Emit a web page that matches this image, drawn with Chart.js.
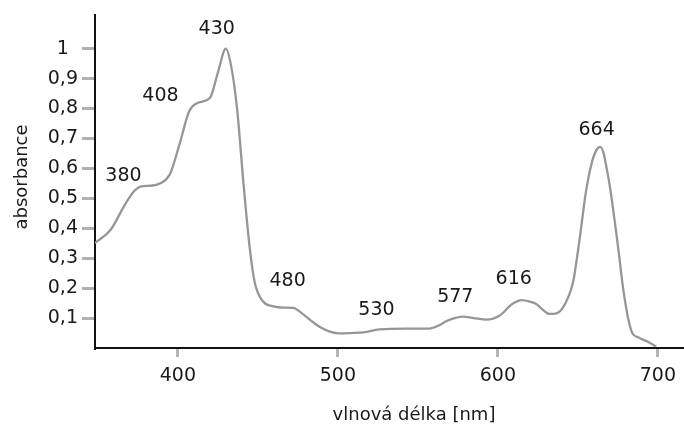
<!DOCTYPE html>
<html>
<head>
<meta charset="utf-8">
<script src="https://cdn.jsdelivr.net/npm/chart.js@4.4.1/dist/chart.umd.min.js"></script>
<style>
  html, body { margin: 0; padding: 0; background: #fff; }
  #wrap { width: 684px; height: 428px; }
</style>
</head>
<body>
<div id="wrap"><canvas id="chart" width="684" height="428"></canvas></div>
<script>
// absorption spectrum
const wavelengths = [348, 358, 367, 373, 377, 383, 389, 395, 401, 407, 413, 420, 425, 430, 433, 437, 441, 445, 448, 453, 459, 466, 472, 478, 484, 489, 495, 501, 508, 516, 526, 543, 557, 563, 568, 573, 578, 585, 593, 601, 609, 615, 620, 624, 628, 632, 636, 640, 644, 647, 651, 655, 659, 662, 664, 666, 668, 670, 672, 674, 676, 678, 680, 682, 684, 688, 694, 699];
const absorbance = [0.35, 0.395, 0.48, 0.526, 0.54, 0.542, 0.55, 0.58, 0.68, 0.79, 0.82, 0.835, 0.92, 1.0, 0.95, 0.8, 0.55, 0.33, 0.22, 0.157, 0.14, 0.135, 0.134, 0.114, 0.088, 0.069, 0.055, 0.049, 0.05, 0.052, 0.062, 0.065, 0.065, 0.075, 0.09, 0.1, 0.105, 0.1, 0.095, 0.108, 0.147, 0.16, 0.155, 0.147, 0.128, 0.114, 0.115, 0.13, 0.17, 0.22, 0.36, 0.52, 0.625, 0.665, 0.672, 0.652, 0.6, 0.54, 0.465, 0.385, 0.3, 0.21, 0.14, 0.085, 0.05, 0.035, 0.02, 0.005];

const xTicks = [400, 500, 600, 700];
const yTicks = [0.1, 0.2, 0.3, 0.4, 0.5, 0.6, 0.7, 0.8, 0.9, 1.0];
const yTickLabels = ['0,1', '0,2', '0,3', '0,4', '0,5', '0,6', '0,7', '0,8', '0,9', '1'];

// peak annotations: text and where it sits (nm, absorbance)
const peakLabels = ['380', '408', '430', '480', '530', '577', '616', '664'];
const peakLabelX = [366, 389.1, 424.3, 468.6, 524.1, 573.4, 609.9, 661.7];
const peakLabelY = [0.574, 0.842, 1.065, 0.222, 0.126, 0.17, 0.229, 0.729];

const xTitle = 'vlnová délka [nm]';
const yTitle = 'absorbance';

const FONT = 'DejaVu Sans';
const TEXT = '#1a1a1a';

const annotations = {
  id: 'annotations',
  afterDraw(chart) {
    const { ctx, scales } = chart;
    ctx.save();
    ctx.fillStyle = TEXT;
    ctx.font = '19px "' + FONT + '"';
    ctx.textAlign = 'center';
    ctx.textBaseline = 'middle';
    peakLabels.forEach((t, i) => {
      ctx.fillText(t, scales.x.getPixelForValue(peakLabelX[i]), scales.y.getPixelForValue(peakLabelY[i]));
    });

    ctx.font = '18px "' + FONT + '"';
    ctx.fillText(xTitle, 414, 415);
    ctx.translate(22, 177);
    ctx.rotate(-Math.PI / 2);
    ctx.fillText(yTitle, 0, 0);
    ctx.restore();
  }
};

new Chart(document.getElementById('chart'), {
  type: 'line',
  data: {
    datasets: [{
      data: wavelengths.map((w, i) => ({ x: w, y: absorbance[i] })),
      borderColor: '#969696',
      borderWidth: 2.3,
      pointRadius: 0,
      fill: false,
      cubicInterpolationMode: 'monotone'
    }]
  },
  options: {
    responsive: false,
    animation: false,
    layout: { padding: { top: 8, right: 0, left: 0, bottom: 0 } },
    plugins: { legend: { display: false }, tooltip: { enabled: false } },
    scales: {
      x: {
        type: 'linear',
        min: 348.2,
        max: 715.6,
        afterBuildTicks: s => { s.ticks = xTicks.map(v => ({ value: v })); },
        afterFit: s => { s.height = 80; },
        border: { color: '#111', width: 2 },
        grid: { drawOnChartArea: false, color: '#b5b5b5', lineWidth: 3, tickLength: 9 },
        ticks: { color: TEXT, font: { family: FONT, size: 19 }, padding: 8, maxRotation: 0 }
      },
      y: {
        min: 0,
        max: 1.111,
        afterBuildTicks: s => { s.ticks = yTicks.map(v => ({ value: v })); },
        afterFit: s => { s.width = 95; },
        border: { color: '#111', width: 2 },
        grid: { drawOnChartArea: false, color: '#b0b0b0', lineWidth: 3, tickLength: 13 },
        ticks: {
          color: TEXT,
          font: { family: FONT, size: 19 },
          padding: 4,
          crossAlign: 'center',
          callback: (v, i) => yTickLabels[i]
        }
      }
    }
  },
  plugins: [annotations]
});
</script>
</body>
</html>
